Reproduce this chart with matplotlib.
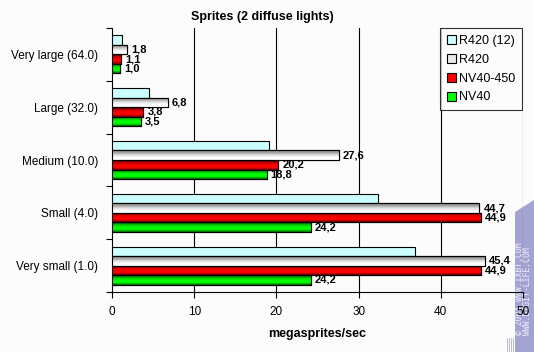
import matplotlib
matplotlib.use("Agg")
import matplotlib.pyplot as plt
import numpy as np
from matplotlib.colors import LinearSegmentedColormap
from matplotlib.patches import Rectangle, Polygon

plt.rcParams['font.family'] = ['Liberation Sans', 'DejaVu Sans']

categories = ["Very large (64.0)", "Large (32.0)", "Medium (10.0)", "Small (4.0)", "Very small (1.0)"]
series_names = ["R420 (12)", "R420", "NV40-450", "NV40"]
r420_12 = [1.2, 4.5, 19.1, 32.4, 36.9]
r420 = [1.8, 6.8, 27.6, 44.7, 45.4]
nv40_450 = [1.1, 3.8, 20.2, 44.9, 44.9]
nv40 = [1.0, 3.5, 18.8, 24.2, 24.2]
series = [r420_12, r420, nv40_450, nv40]
show_labels = [False, True, True, True]
xticks = [0, 10, 20, 30, 40, 50]

face = ["#CCFFFF", "#E8E8E8", "#FF0000", "#00FF00"]
grads = [
    None,
    ["#FFFFFF", "#FFFFFF", "#E0E0E0", "#A0A0A0", "#808080"],
    ["#600000", "#FF0000", "#FF0000", "#C00000", "#400000"],
    ["#006000", "#00FF00", "#00FF00", "#00C000", "#004000"],
]

bg = "#FCFCFC"
fig = plt.figure(figsize=(5.34, 3.52), dpi=100, facecolor=bg)
ax = fig.add_axes([112/534, 1-292/352, 411/534, 264/352], facecolor=bg)
ax.patch.set_visible(False)
ax.set_zorder(2)

y = np.arange(len(categories))
h = 0.18
offsets = [-0.27, -0.09, 0.09, 0.27]
ax.set_xlim(0, 50)
ax.set_ylim(len(categories)-0.5, -0.5)

for k, (vals, off) in enumerate(zip(series, offsets)):
    bars = ax.barh(y + off, vals, height=h, color=face[k], edgecolor="black",
                   linewidth=0.8, label=series_names[k], zorder=3)
    if grads[k] is not None:
        cmap = LinearSegmentedColormap.from_list("g%d" % k, grads[k])
        for b in bars:
            x0, y0 = b.get_x(), b.get_y()
            w, hh = b.get_width(), b.get_height()
            im = ax.imshow(np.linspace(0, 1, 50).reshape(-1, 1), cmap=cmap, aspect="auto",
                           extent=[x0, x0 + w, y0, y0 + hh], origin="upper",
                           zorder=3.5, interpolation="bilinear")
            im.set_clip_path(b)
            ax.add_patch(Rectangle((x0, y0), w, hh, fill=False, edgecolor="black",
                                   linewidth=0.8, zorder=4))
    if show_labels[k]:
        for yi, v in zip(y + off, vals):
            ax.text(v + 0.5, yi, ("%.1f" % v).replace(".", ","), va="center", ha="left",
                    fontsize=8, fontweight="bold", zorder=5)

ax.set_aspect("auto")
ax.set_xlim(0, 50)
ax.set_ylim(len(categories)-0.5, -0.5)
ax.set_xticks(xticks)
ax.set_xticklabels([str(t) for t in xticks], fontsize=8.5)
ax.set_yticks(y)
ax.set_yticklabels(categories, fontsize=8.5)
ax.tick_params(axis="y", length=0, pad=10)
ax.set_yticks(np.arange(-0.5, len(categories), 1), minor=True)
ax.tick_params(axis="y", which="minor", length=4, width=0.8, direction="out")
ax.tick_params(axis="x", length=4, width=0.8, direction="out", pad=6)
for t in xticks[1:]:
    ax.axvline(t, color="black", linewidth=0.8, zorder=1)
for s in ["top", "right"]:
    ax.spines[s].set_visible(False)
ax.spines["left"].set_linewidth(0.8)
ax.spines["bottom"].set_linewidth(0.8)

ax.set_xlabel("megasprites/sec", fontsize=9, fontweight="bold", labelpad=7)
fig.text(262/534, 1-17/352, "Sprites (2 diffuse lights)", ha="center", va="center",
         fontsize=9, fontweight="bold")

leg = ax.legend(loc="upper right", bbox_to_anchor=(522/534, 1-28/352),
                bbox_transform=fig.transFigure, fontsize=9, frameon=True,
                fancybox=False, edgecolor="black", handlelength=0.7, handleheight=0.7,
                handletextpad=0.25, labelspacing=0.55, borderpad=0.55, borderaxespad=0)
leg.get_frame().set_linewidth(0.8)
leg.get_frame().set_facecolor(bg)
leg.set_zorder(10)

# watermark
fig.patches.append(Polygon([(515/534, 0), (534/534, 0), (534/534, 1-200/352), (515/534, 1-212/352)],
                           closed=True, transform=fig.transFigure,
                           facecolor="#A4A4D2", edgecolor="none", zorder=0))
for xs in [507, 509, 511, 513]:
    fig.lines.append(plt.Line2D([xs/534, xs/534], [0, 1-338/352], transform=fig.transFigure,
                                color="#B0B0C8", linewidth=0.6))
fig.text(520/534, 1-335/352, "© 2004 WWW.IXBT.COM", rotation=90, fontsize=5.8,
         family="DejaVu Sans Mono", color="#F0F0FF", ha="center", va="bottom", zorder=1)
fig.text(528/534, 1-335/352, "WWW.DIGIT-LIFE.COM", rotation=90, fontsize=5.8,
         family="DejaVu Sans Mono", color="#F0F0FF", ha="center", va="bottom", zorder=1)

fig.savefig("out.png", dpi=100, facecolor=bg)
